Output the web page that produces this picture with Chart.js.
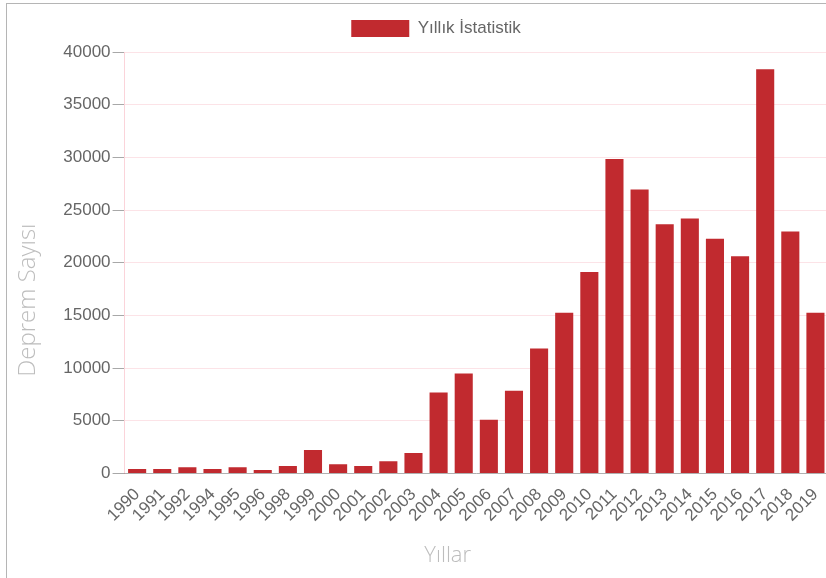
<!DOCTYPE html>
<html>
<head>
<meta charset="utf-8">
<script src="https://cdn.jsdelivr.net/npm/chart.js@4.4.1/dist/chart.umd.min.js"></script>
<style>
  html, body { margin: 0; padding: 0; background: #fff; overflow: hidden; width: 826px; height: 578px; }
  #frame { position: absolute; left: 6px; top: 3px; width: 900px; height: 600px; border-left: 1px solid #b5b5b5; border-top: 1px solid #b5b5b5; }
  #wrap { position: absolute; left: 8px; top: 5px; width: 859px; height: 573px; }
</style>
</head>
<body>
<div id="frame"></div>
<div id="wrap"><canvas id="c" width="859" height="573"></canvas></div>
<script>
const years = ['1990','1991','1992','1994','1995','1996','1998','1999','2000','2001','2002','2003','2004','2005','2006','2007','2008','2009','2010','2011','2012','2013','2014','2015','2016','2017','2018','2019'];
const earthquakeCounts = [430,430,590,430,590,330,710,2230,870,710,1150,1950,7690,9490,5090,7840,11860,15260,19110,29850,26940,23650,24190,22270,20620,38370,22960,15260];
const seriesLabel = 'Yıllık İstatistik';
const xTitle = 'Yıllar';
const yTitle = 'Deprem Sayısı';
const yTicks = [0,5000,10000,15000,20000,25000,30000,35000,40000];

const tickFont = { family: 'Liberation Sans, Arial, sans-serif', size: 17 };
const xTitleFont = { family: 'Open Sans, sans-serif', size: 22, weight: '300' };
const yTitleFont = { family: 'Open Sans, sans-serif', size: 24, weight: '300' };
const pad = (n) => '\u00a0'.repeat(n);

// legend block: shifted right (centred on the wider page in the reference) and given extra room below
const legendTweak = {
  id: 'legendTweak',
  beforeLayout(chart) {
    const lg = chart.legend;
    if (lg && !lg._tweaked) {
      const fit = lg.fit;
      lg.fit = function () { fit.call(this); this.height += 5; };
      lg._tweaked = true;
    }
  },
  afterLayout(chart) {
    const lg = chart.legend;
    if (lg) { lg.left += 18; lg.right += 18; }
  }
};

new Chart(document.getElementById('c'), {
  type: 'bar',
  data: {
    labels: years,
    datasets: [{
      label: seriesLabel,
      data: earthquakeCounts,
      backgroundColor: '#c12a2f',
      borderColor: '#c12a2f',
      borderWidth: 0
    }]
  },
  plugins: [legendTweak],
  options: {
    responsive: false,
    animation: false,
    devicePixelRatio: 1,
    layout: { padding: { top: 0, right: 39, bottom: 5, left: 0 } },
    plugins: {
      legend: {
        display: true,
        position: 'top',
        labels: { boxWidth: 58, boxHeight: 17, padding: 15, color: '#666', font: tickFont }
      },
      tooltip: { enabled: false }
    },
    scales: {
      x: {
        grid: { display: false, drawTicks: false },
        border: { display: true, color: '#b0b0b0', width: 1 },
        ticks: { color: '#666', font: tickFont, minRotation: 45, maxRotation: 45, autoSkip: false, padding: 11 },
        title: { display: true, text: xTitle + pad(10), color: '#bdbdbd', font: xTitleFont, padding: { top: 6, bottom: 4 } }
      },
      y: {
        min: 0,
        max: 40000,
        afterBuildTicks: (axis) => { axis.ticks = yTicks.map(v => ({ value: v })); },
        grid: { color: 'rgba(235,40,70,0.13)', tickColor: '#a8a8a8', tickLength: 12, drawTicks: true },
        border: { display: true, color: 'rgba(235,40,70,0.2)', width: 1 },
        ticks: { color: '#666', font: tickFont, padding: 2, callback: (v) => String(v) },
        title: { display: true, text: yTitle + pad(12), color: '#bdbdbd', font: yTitleFont, padding: { top: 6, bottom: 18.5 } }
      }
    }
  }
});
</script>
</body>
</html>
